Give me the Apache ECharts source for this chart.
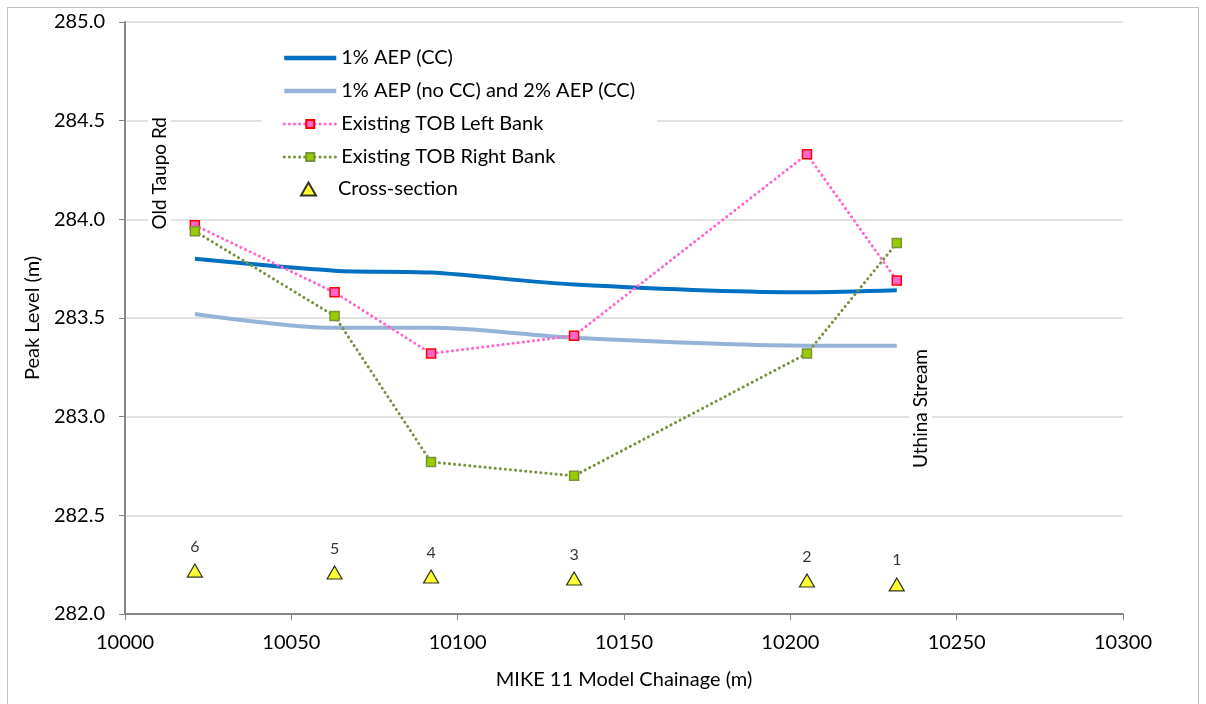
<!DOCTYPE html>
<html>
<head>
<meta charset="utf-8">
<script src="https://cdn.jsdelivr.net/npm/echarts@6/dist/echarts.min.js"></script>
<style>
html,body{margin:0;padding:0;background:#fff;}
#frame{position:absolute;left:7px;top:7px;width:1192px;height:710px;border:1px solid #bfbfbf;box-sizing:border-box;}
#chart{position:absolute;left:0;top:0;width:1206px;height:704px;}
</style>
</head>
<body>
<div id="frame"></div>
<div id="chart"></div>
<script>
const chainage = [10021, 10063, 10092, 10135, 10205, 10232];
const aepCC = [283.80, 283.74, 283.73, 283.67, 283.63, 283.64];
const aepNoCC = [283.52, 283.45, 283.45, 283.40, 283.36, 283.36];
const tobLeft = [283.97, 283.63, 283.32, 283.41, 284.33, 283.69];
const tobRight = [283.94, 283.51, 282.77, 282.70, 283.32, 283.88];
const crossSection = [282.22, 282.21, 282.19, 282.18, 282.17, 282.15];
const csLabels = ['6', '5', '4', '3', '2', '1'];
const seriesNames = ['1% AEP (CC)', '1% AEP (no CC) and 2% AEP (CC)', 'Existing TOB Left Bank', 'Existing TOB Right Bank', 'Cross-section'];
const yTicks = {min: 282, max: 285, interval: 0.5};
const xTicks = {min: 10000, max: 10300, interval: 50};

const pair = (ys) => chainage.map((x, i) => [x, ys[i]]);
const FONT = 'Lato';
const hidden = {color: 'rgba(0,0,0,0)', borderColor: 'rgba(0,0,0,0)', borderWidth: 0};

const chart = echarts.init(document.getElementById('chart'), null, {renderer: 'canvas'});
chart.setOption({
  animation: false,
  backgroundColor: 'transparent',
  textStyle: {fontFamily: FONT, color: '#000'},
  grid: {left: 125, right: 83, top: 22, bottom: 90, containLabel: false},
  xAxis: {
    type: 'value', min: xTicks.min, max: xTicks.max, interval: xTicks.interval,
    name: 'MIKE 11 Model Chainage (m)', nameLocation: 'middle', nameGap: 56,
    nameTextStyle: {fontFamily: FONT, fontSize: 20, color: '#000'},
    axisLine: {show: true, lineStyle: {color: '#868686', width: 2}},
    axisTick: {show: true, inside: false, length: 6, lineStyle: {color: '#868686', width: 1}},
    axisLabel: {fontFamily: FONT, fontSize: 20, color: '#000', margin: 19, formatter: v => String(v)},
    splitLine: {show: false}
  },
  yAxis: {
    type: 'value', min: yTicks.min, max: yTicks.max, interval: yTicks.interval,
    name: 'Peak Level (m)', nameLocation: 'middle', nameGap: 80, nameRotate: 90,
    nameTextStyle: {fontFamily: FONT, fontSize: 20, color: '#000'},
    axisLine: {show: true, lineStyle: {color: '#868686', width: 2}},
    axisTick: {show: true, inside: false, length: 6, lineStyle: {color: '#868686', width: 1}},
    axisLabel: {fontFamily: FONT, fontSize: 20, color: '#000', margin: 20, formatter: v => v.toFixed(1)},
    splitLine: {show: true, lineStyle: {color: '#d9d9d9', width: 1.5}}
  },
  legend: [
    {
      show: true, orient: 'vertical', left: 262, top: 42,
      backgroundColor: '#fff', padding: [6, 22, 6, 20],
      itemWidth: 52, itemHeight: 10, itemGap: 13,
      textStyle: {fontFamily: FONT, fontSize: 20, color: '#000'},
      data: [
        {name: seriesNames[0], itemStyle: hidden, lineStyle: {width: 4.5}},
        {name: seriesNames[1], itemStyle: hidden, lineStyle: {width: 4.5}},
        {name: seriesNames[2], lineStyle: {width: 3}},
        {name: seriesNames[3], lineStyle: {width: 3}}
      ]
    },
    {
      show: true, orient: 'vertical', left: 300, top: 179,
      padding: 0, itemWidth: 15, itemHeight: 13,
      textStyle: {fontFamily: FONT, fontSize: 20, color: '#000', padding: [0, 0, 0, 17]},
      data: [seriesNames[4]]
    }
  ],
  series: [
    {
      name: seriesNames[0], type: 'line', data: pair(aepCC), smooth: 0.3,
      symbol: 'none', lineStyle: {color: '#0070c0', width: 4}, itemStyle: {color: '#0070c0'}, z: 3
    },
    {
      name: seriesNames[1], type: 'line', data: pair(aepNoCC), smooth: 0.3,
      symbol: 'none', lineStyle: {color: '#95b3d7', width: 4}, itemStyle: {color: '#95b3d7'}, z: 2
    },
    {
      name: seriesNames[2], type: 'line', data: pair(tobLeft),
      symbol: 'rect', symbolSize: 9, showAllSymbol: true,
      lineStyle: {color: '#ff66cc', width: 3, type: [0.1, 5], cap: 'round'},
      itemStyle: {color: '#ff66cc', borderColor: '#ff0000', borderWidth: 1.5}, z: 4
    },
    {
      name: seriesNames[3], type: 'line', data: pair(tobRight),
      symbol: 'rect', symbolSize: 9, showAllSymbol: true,
      lineStyle: {color: '#77933c', width: 3, type: [0.1, 5], cap: 'round'},
      itemStyle: {color: '#99cc00', borderColor: '#77933c', borderWidth: 1.5}, z: 4
    },
    {
      name: seriesNames[4], type: 'scatter', data: pair(crossSection),
      symbol: 'triangle', symbolSize: [15, 13],
      itemStyle: {color: '#ffff00', borderColor: '#000', borderWidth: 1.2},
      label: {
        show: true, position: 'top', distance: 9, fontFamily: FONT, fontSize: 16, color: '#000',
        formatter: p => csLabels[p.dataIndex]
      }, z: 5
    }
  ],
  graphic: [
    {
      type: 'text', left: 148, top: 111, z: 10,
      style: {text: 'Old Taupo Rd', font: '19px ' + FONT, fill: '#000', backgroundColor: '#fff', padding: [2, 6, 2, 6]},
      rotation: Math.PI / 2, originX: 0, originY: 0
    },
    {
      type: 'text', left: 909, top: 341, z: 10,
      style: {text: 'Uthina Stream', font: '19px ' + FONT, fill: '#000', backgroundColor: '#fff', padding: [2, 8, 2, 8]},
      rotation: Math.PI / 2, originX: 0, originY: 0
    }
  ]
});
</script>
</body>
</html>
